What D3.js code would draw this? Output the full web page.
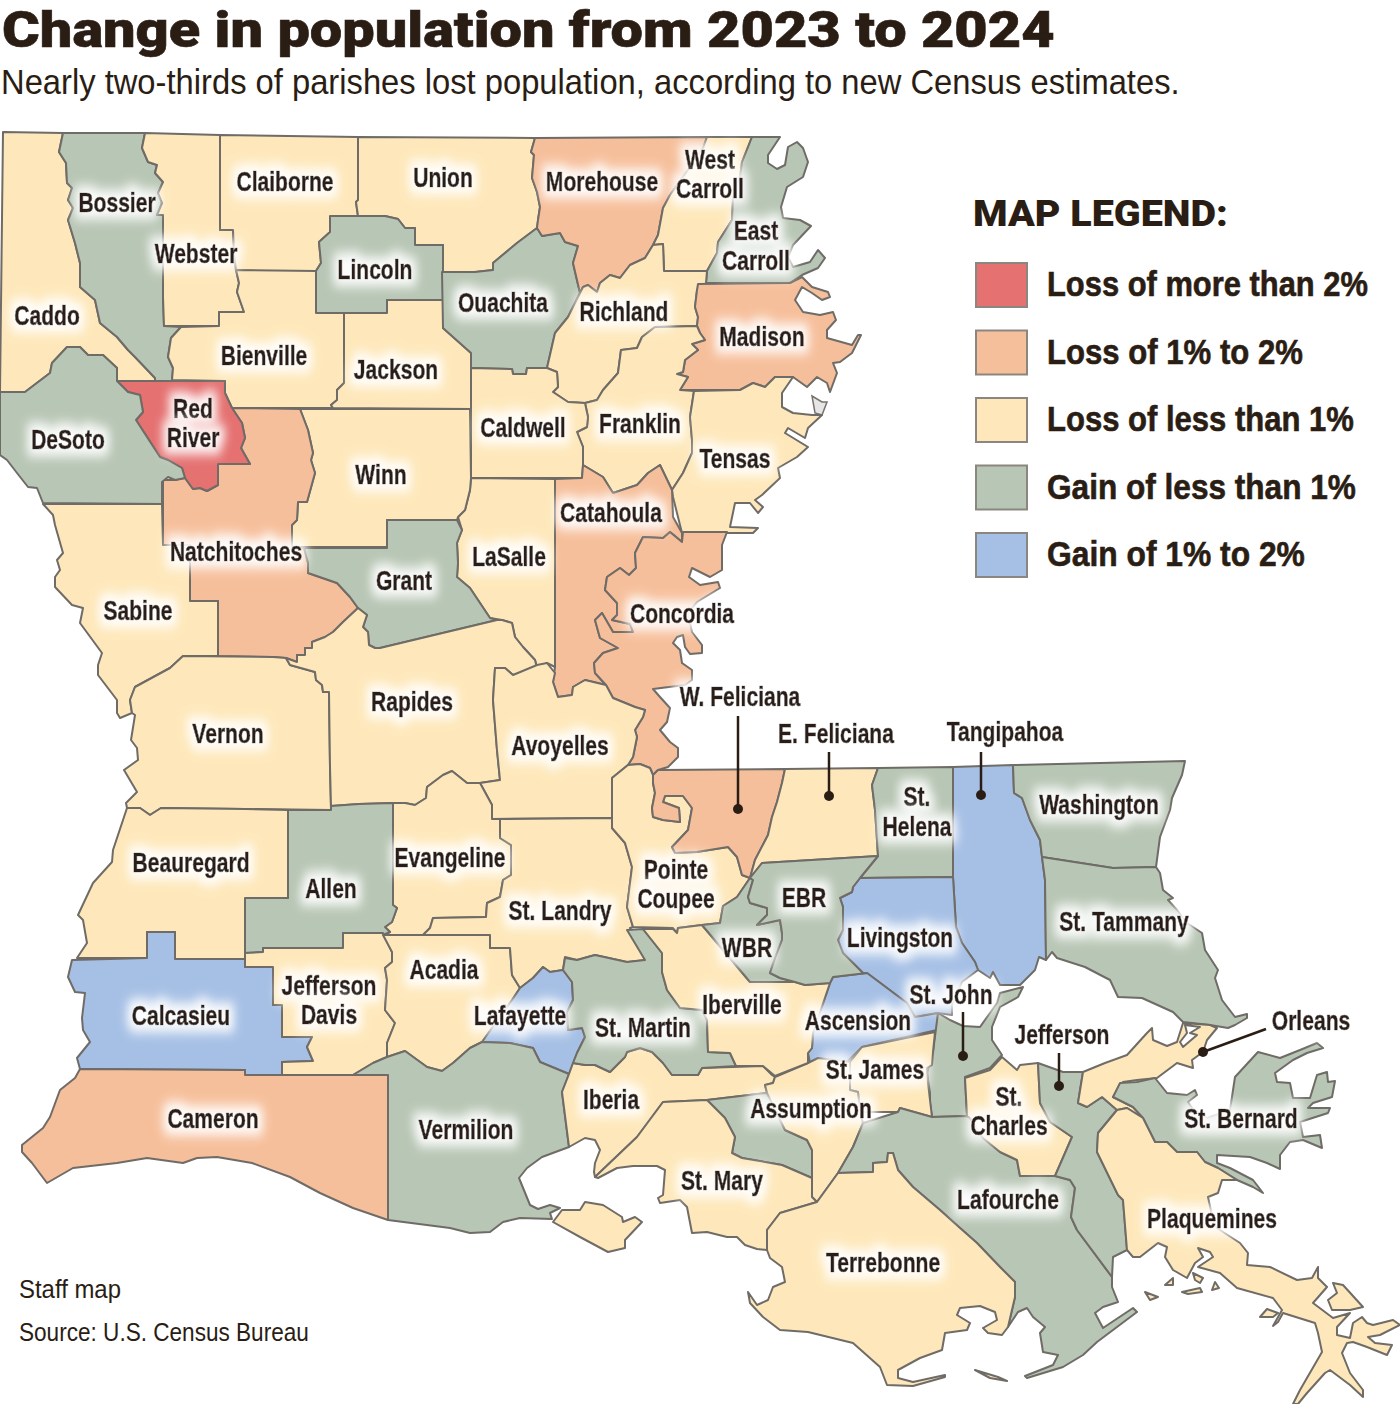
<!DOCTYPE html>
<html>
<head>
<meta charset="utf-8">
<script src="https://cdn.jsdelivr.net/npm/d3@7"></script>
<style>
  html, body { margin: 0; padding: 0; background: #fff; }
  svg { display: block; }
  text { fill: #2a1d14; }
</style>
</head>
<body>
<div id="chart"></div>
<script>
const titleText = 'Change in population from 2023 to 2024'
const subtitleText = 'Nearly two-thirds of parishes lost population, according to new Census estimates.'
const creditLines = ['Staff map', 'Source: U.S. Census Bureau']

const legendLabels = ['Loss of more than 2%', 'Loss of 1% to 2%', 'Loss of less than 1%', 'Gain of less than 1%', 'Gain of 1% to 2%']
const legendColors = ['#e57171', '#f6bf9b', '#fee8bb', '#b8c6b5', '#a6c0e5']

const lossOver2 = ['Red River']
const loss1to2 = ['Morehouse', 'Madison', 'Natchitoches', 'Catahoula', 'Concordia', 'W. Feliciana', 'Cameron']
const gainUnder1 = ['Bossier', 'DeSoto', 'Lincoln', 'Ouachita', 'East Carroll', 'Grant', 'Allen', 'St. Helena', 'Washington', 'St. Tammany', 'EBR', 'WBR', 'St. Martin', 'St. John', 'Vermilion', 'Lafourche', 'Jefferson', 'St. Bernard']
const gain1to2 = ['Calcasieu', 'Lafayette', 'Livingston', 'Ascension', 'Tangipahoa']
// everything else falls in "Loss of less than 1%"

// parish outlines, "x,y x,y ..." and | between separate parts
const parishOutlines = [
  ['Caddo', '3,132 63,133 59,152 66,163 67,183 72,188 68,200 73,208 68,220 75,243 80,263 80,287 95,300 100,323 117,337 128,350 135,357 155,378 155,381 117,381 117,368 103,355 88,355 80,347 67,347 52,363 50,373 25,392 0,392'],
  ['Bossier', '63,133 145,133 142,148 148,162 157,165 155,173 163,182 158,193 162,203 157,215 163,215 163,297 164,326 181,327 171,338 168,357 173,368 172,381 155,381 155,378 135,357 128,350 117,337 100,323 95,300 80,287 80,263 75,243 68,220 73,208 68,200 72,188 67,183 66,163 59,152'],
  ['Webster', '145,133 220,135 220,230 233,230 234,253 236,270 239,283 237,292 244,312 219,312 219,326 164,326 163,297 163,215 157,215 162,203 158,193 163,182 155,173 157,165 148,162 142,148'],
  ['Claiborne', '220,135 358,137 358,200 356,202 358,216 330,217 330,232 319,242 321,263 316,271 236,271 234,253 233,230 220,230'],
  ['Union', '358,137 535,138 531,152 534,155 532,178 537,192 540,207 538,220 537,228 517,243 493,263 493,270 475,272 443,272 443,245 415,245 415,228 405,228 398,219 385,216 358,216 356,202 358,200'],
  ['Lincoln', '330,216 385,216 398,219 405,228 415,228 415,245 443,245 443,300 387,300 387,313 316,313 316,271 321,263 319,242 330,232'],
  ['Bienville', '181,327 219,326 219,312 244,312 237,292 239,283 236,270 316,271 316,313 344,313 344,383 337,390 337,400 331,405 333,408 232,408 225,393 225,381 172,380 173,368 168,357 171,338'],
  ['Jackson', '344,313 387,313 387,300 443,300 443,328 471,353 471,409 333,408 331,405 337,400 337,390 344,383'],
  ['Ouachita', '442,272 475,272 493,270 493,263 517,243 537,228 542,236 560,233 565,242 578,246 573,263 580,293 568,317 555,333 547,368 527,368 526,374 513,374 512,369 471,368 471,353 443,328'],
  ['Morehouse', '535,138 707,137 703,148 688,170 670,195 663,208 658,235 653,245 645,258 630,265 620,278 610,275 600,283 597,292 588,285 583,287 580,293 573,263 578,246 565,242 560,233 542,236 537,228 538,220 540,207 537,192 532,178 534,155 531,152'],
  ['West Carroll', '707,137 752,137 742,162 740,177 733,198 732,220 718,242 717,253 707,271 664,271 663,244 653,245 658,235 663,208 670,195 688,170 703,148'],
  ['East Carroll', '752,137 780,137 768,155 768,163 777,169 785,165 788,147 797,142 803,148 808,162 803,177 787,187 781,207 783,218 800,220 811,226 793,245 788,257 793,267 810,262 818,250 825,258 818,268 802,275 790,283 706,283 707,271 717,253 718,242 732,220 733,198 740,177 742,162'],
  ['Richland', '663,244 664,271 707,271 706,283 697,290 695,307 698,317 697,326 655,327 642,337 637,348 621,350 618,373 603,390 597,400 585,403 568,402 553,392 558,387 557,372 547,368 555,333 568,317 580,293 583,287 588,285 597,292 600,283 610,275 620,278 630,265 645,258 653,245'],
  ['Madison', '698,284 790,283 802,277 812,287 828,292 830,297 822,300 812,293 802,287 795,300 803,312 820,315 833,312 836,320 827,330 827,338 852,345 858,335 861,335 852,353 840,362 833,363 837,373 830,392 827,383 817,377 807,387 793,377 775,377 765,387 753,383 740,390 680,390 688,377 677,374 683,372 685,360 698,350 692,344 705,340 700,333 697,326 698,317 695,307 697,290'],
  ['Franklin', '655,327 697,326 700,333 705,340 692,344 698,350 685,360 683,372 677,374 688,377 680,390 694,391 690,417 692,440 692,453 683,473 672,490 660,465 648,473 637,485 613,493 603,477 583,465 583,447 577,432 587,427 588,417 585,403 597,400 603,390 618,373 621,350 637,348 642,337'],
  ['Tensas', '694,391 740,390 753,383 765,387 775,377 793,377 782,393 782,407 793,413 812,415 822,415 808,428 805,438 788,428 785,433 808,447 797,457 778,468 780,478 762,495 755,500 763,507 758,513 750,503 735,503 730,527 758,528 753,533 727,533 682,533 673,497 672,490 683,473 692,453 692,440 690,417'],
  ['Caldwell', '471,368 512,369 513,374 526,374 527,368 547,368 557,372 558,387 553,392 568,402 585,403 588,417 587,427 577,432 583,447 583,465 582,478 471,478'],
  ['Catahoula', '555,479 582,478 583,465 603,477 613,493 637,485 648,473 660,465 672,490 673,517 682,533 682,542 670,532 663,538 643,537 635,553 636,568 629,575 620,568 607,577 605,590 617,603 617,615 612,620 630,624 633,632 613,632 602,613 595,620 600,638 618,648 603,653 594,663 595,673 606,685 585,680 573,687 572,695 558,697 553,682 555,667'],
  ['Concordia', '682,542 683,532 727,532 722,545 722,570 710,577 692,568 689,577 700,585 718,582 720,588 697,602 688,613 692,632 702,645 702,653 690,654 685,647 683,635 677,637 673,643 680,650 682,663 692,670 692,680 685,685 653,689 660,697 670,708 667,722 660,730 670,742 678,748 678,757 668,767 658,770 653,775 650,768 640,764 628,765 633,757 637,737 635,730 643,717 645,710 635,707 613,698 606,685 595,673 594,663 603,653 618,648 600,638 595,620 602,613 613,632 633,632 630,624 612,620 617,615 617,603 605,590 607,577 620,568 629,575 636,568 635,553 643,537 663,538 670,532'],
  ['LaSalle', '471,478 555,479 555,667 547,663 537,668 535,660 523,647 515,637 512,623 502,620 490,618 470,588 457,577 458,563 457,543 462,530 458,517 465,510 470,490'],
  ['Winn', '300,409 470,409 471,478 470,490 465,510 458,517 457,520 387,520 387,547 292,547 292,525 297,520 298,502 307,502 315,473 311,460 313,453 308,430'],
  ['Natchitoches', '232,408 300,409 308,430 313,453 311,460 315,473 307,502 298,502 297,520 292,525 292,547 304,548 308,563 308,573 337,583 350,597 358,608 343,622 333,632 325,637 312,642 312,648 305,648 305,655 297,655 297,662 286,658 273,657 218,656 218,601 190,601 190,545 163,545 163,480 175,480 185,478 193,489 200,488 207,491 218,485 218,464 250,464 241,448 245,438 242,423'],
  ['Grant', '387,520 457,520 462,530 457,543 458,563 457,577 470,588 490,618 497,620 380,648 375,648 369,645 368,632 363,627 367,615 358,608 350,597 337,583 308,573 308,563 304,548 387,548'],
  ['Red River', '117,381 225,381 225,393 232,408 242,423 245,438 241,448 250,464 218,464 218,485 207,491 200,488 193,489 185,478 182,468 168,460 160,457 147,437 136,420 143,412 140,395 128,392'],
  ['DeSoto', '0,392 25,392 50,373 52,363 67,347 80,347 88,355 103,355 117,368 117,381 128,392 140,395 143,412 136,420 147,437 160,457 168,460 182,468 185,478 175,480 168,477 162,482 162,504 43,503 37,488 28,487 17,473 7,460 0,455'],
  ['Sabine', '43,504 162,504 163,545 190,545 190,601 218,601 218,656 183,656 170,668 135,687 130,700 132,713 120,718 117,713 117,700 98,675 98,665 102,653 80,623 83,608 72,605 55,587 55,577 60,570 57,560 63,553 55,525 53,515'],
  ['Vernon', '183,656 273,657 286,658 290,665 315,672 316,680 322,685 323,692 329,692 330,767 331,810 245,809 161,808 150,815 140,808 127,808 126,803 137,792 124,770 138,760 137,748 131,740 135,715 132,713 130,700 135,687 170,668'],
  ['Rapides', '286,658 297,662 297,655 305,655 305,648 312,648 312,642 325,637 333,632 343,622 358,608 367,615 363,627 368,632 369,645 375,648 380,648 497,620 502,620 512,623 515,637 523,647 535,660 537,668 513,675 505,668 495,668 493,700 497,750 500,780 480,783 467,783 452,771 443,775 427,787 426,798 415,805 405,803 393,803 359,804 331,806 330,767 329,692 323,692 322,685 316,680 315,672 290,665'],
  ['Avoyelles', '495,668 505,668 513,675 537,665 547,663 555,673 553,682 558,697 572,695 573,687 585,680 606,685 613,698 635,707 645,710 643,717 635,730 637,737 633,757 628,765 612,778 612,818 492,819 492,805 480,783 500,780 497,750 493,700'],
  ['Evangeline', '393,803 405,803 415,805 426,798 427,787 443,775 452,771 467,783 480,783 492,805 492,819 500,819 500,838 511,845 511,875 503,880 500,897 487,903 486,917 433,918 430,928 423,935 383,935 390,932 385,927 392,922 397,908 393,905'],
  ['Allen', '288,810 331,810 331,806 359,804 393,803 393,905 397,908 392,922 385,927 390,932 383,935 343,933 343,948 263,948 263,952 245,953 245,898 288,898'],
  ['Beauregard', '127,808 140,808 150,815 161,808 245,809 288,810 288,898 245,898 245,959 175,959 175,932 147,932 147,958 77,958 87,943 83,920 78,915 93,883 112,862 113,850'],
  ['Calcasieu', '72,960 147,958 147,932 175,932 175,959 245,959 245,967 273,967 273,1005 282,1005 282,1037 312,1037 307,1047 313,1061 282,1062 282,1075 245,1075 245,1070 80,1069 77,1058 90,1042 83,1030 82,1018 85,993 75,992 68,977'],
  ['Cameron', '80,1069 245,1070 245,1075 282,1075 388,1075 388,1220 353,1208 320,1193 290,1177 252,1163 217,1157 197,1158 183,1163 147,1158 117,1163 73,1168 47,1183 32,1163 22,1152 22,1145 43,1128 50,1117 60,1090 75,1078'],
  ['Jefferson Davis', '245,953 263,952 263,948 343,948 343,933 383,933 392,952 392,962 385,968 387,980 385,1010 395,1023 387,1043 387,1057 373,1063 353,1075 282,1075 282,1062 313,1061 307,1047 312,1037 282,1037 282,1005 273,1005 273,967 245,967'],
  ['Acadia', '383,935 490,935 490,948 510,948 512,975 520,988 512,1000 482,1042 470,1048 453,1063 442,1071 427,1067 405,1051 387,1057 387,1043 395,1023 385,1010 387,980 385,968 392,962 392,952'],
  ['St. Landry', '500,819 612,818 612,828 625,843 632,867 627,907 633,927 630,928 645,960 627,962 595,955 577,960 565,957 563,970 550,972 543,967 533,978 520,988 512,975 510,948 490,948 490,935 423,935 430,928 433,918 486,917 487,903 500,897 503,880 511,875 511,845 500,838'],
  ['Lafayette', '520,988 533,978 543,967 550,972 563,970 572,982 573,1000 567,1012 568,1030 582,1028 585,1037 577,1053 569,1074 540,1062 533,1048 510,1043 482,1042 512,1000'],
  ['Vermilion', '353,1075 373,1063 387,1057 405,1051 427,1067 442,1071 453,1063 470,1048 482,1042 510,1043 533,1048 540,1062 569,1074 562,1092 569,1147 542,1157 527,1168 519,1178 530,1205 538,1209 550,1205 560,1208 550,1213 552,1219 520,1218 503,1222 490,1232 470,1233 450,1228 388,1220 388,1075'],
  ['Iberia', '569,1074 573,1063 585,1065 595,1065 610,1072 625,1057 627,1052 640,1048 652,1052 663,1063 672,1075 698,1075 702,1068 763,1066 772,1075 775,1077 773,1083 765,1085 767,1093 707,1100 663,1102 637,1137 595,1177 594,1172 595,1163 600,1150 595,1140 585,1138 569,1147 562,1092|553,1222 562,1210 580,1210 585,1202 603,1205 622,1217 623,1222 635,1217 642,1222 625,1240 625,1248 608,1252 580,1237'],
  ['St. Martin', '565,958 577,960 595,955 627,962 645,960 627,930 643,929 662,953 662,972 667,990 680,1008 702,1010 707,1020 708,1052 730,1053 736,1066 702,1068 698,1075 672,1075 663,1063 652,1052 640,1048 627,1052 625,1057 610,1072 595,1065 585,1065 573,1063 577,1053 585,1037 582,1028 568,1030 567,1012 573,1000 572,982 563,970|707,1100 767,1093 785,1130 807,1140 812,1150 812,1178 782,1165 742,1158 732,1153 735,1137 725,1118'],
  ['Pointe Coupee', '628,765 640,764 650,768 653,775 653,783 655,793 652,808 653,817 663,820 680,822 679,808 663,802 665,796 683,796 692,808 688,830 672,847 675,853 697,852 728,847 737,857 742,875 750,878 737,897 723,906 720,923 702,925 678,928 677,933 673,928 633,927 627,907 632,867 625,843 612,828 612,778'],
  ['W. Feliciana', '658,770 785,769 782,783 777,802 772,817 768,835 755,860 750,878 742,875 737,857 728,847 697,852 675,853 672,847 688,830 692,808 683,796 665,796 663,802 679,808 680,822 663,820 653,817 652,808 655,793 653,783 653,775'],
  ['E. Feliciana', '785,769 878,768 872,785 875,810 878,856 762,863 750,878 755,860 768,835 772,817 777,802 782,783'],
  ['St. Helena', '878,768 953,767 953,877 860,878 878,856 875,810 872,785'],
  ['Tangipahoa', '953,767 1013,765 1014,793 1022,798 1030,820 1040,840 1042,857 1045,880 1046,960 1039,957 1035,970 1020,985 1000,985 993,972 990,978 978,970 975,962 962,943 956,927 953,877'],
  ['Washington', '1013,765 1185,761 1182,775 1172,798 1170,810 1160,837 1156,867 1113,868 1042,857 1040,840 1030,820 1022,798 1014,793'],
  ['St. Tammany', '1042,857 1113,868 1156,867 1160,873 1163,890 1173,898 1168,900 1177,910 1187,923 1202,933 1205,950 1218,970 1215,978 1222,1000 1235,1017 1247,1014 1247,1018 1235,1025 1228,1028 1210,1025 1183,1022 1173,1012 1142,998 1118,997 1110,980 1085,967 1057,958 1052,952 1046,960 1045,880'],
  ['Livingston', '860,878 953,877 956,927 962,943 975,962 978,970 962,982 952,1005 952,1015 938,1013 915,1017 907,1003 867,973 863,973 843,953 838,940 843,930 843,907 840,898 852,892 853,887'],
  ['Ascension', '833,977 867,973 907,1003 915,1017 938,1013 937,1030 862,1047 847,1062 810,1063 808,1053 812,1048 813,1033 830,983'],
  ['St. John', '938,1013 950,1020 963,1026 980,1027 997,1003 1000,993 1023,987 1018,997 1000,1007 992,1027 992,1040 1002,1055 990,1068 965,1077 967,1116 932,1117 930,1103 930,1093 927,1073 933,1052'],
  ['St. James', '935,1032 862,1047 850,1062 850,1090 858,1092 860,1112 898,1112 900,1108 932,1117 928,1083 927,1068 932,1065 933,1052'],
  ['Assumption', '775,1077 808,1063 818,1058 850,1062 850,1090 858,1092 860,1112 863,1123 853,1147 838,1173 817,1202 812,1197 812,1150 807,1140 785,1130 767,1093 765,1085 773,1083'],
  ['Iberville', '643,929 673,929 677,933 678,928 702,925 750,982 795,982 805,985 830,983 813,1033 812,1048 808,1053 808,1063 775,1076 763,1066 736,1066 730,1053 708,1052 707,1020 702,1010 680,1008 667,990 662,972 662,953'],
  ['WBR', '702,925 720,923 723,906 737,897 750,878 753,880 748,897 750,903 767,908 767,915 757,925 780,920 782,933 782,940 775,958 770,973 780,978 795,982 750,982'],
  ['EBR', '750,878 762,863 878,856 860,878 853,887 852,892 840,898 843,907 843,930 838,940 843,953 863,973 867,973 833,977 830,983 805,985 795,982 780,978 770,973 775,958 782,940 782,933 780,920 757,925 767,915 767,908 750,903 748,897 753,880'],
  ['St. Mary', '663,1102 707,1100 725,1118 735,1137 732,1153 742,1158 782,1165 812,1178 812,1197 817,1202 780,1213 767,1230 767,1250 757,1249 745,1245 737,1237 727,1237 707,1232 692,1233 687,1207 680,1200 660,1203 658,1198 663,1195 665,1170 657,1166 633,1166 617,1168 598,1178 595,1177 637,1137'],
  ['Lafourche', '863,1123 898,1112 900,1108 932,1117 967,1116 970,1118 983,1138 1000,1152 1017,1160 1020,1176 1055,1176 1070,1180 1075,1188 1071,1217 1077,1230 1112,1277 1112,1287 1118,1302 1103,1307 1095,1313 1103,1328 1133,1308 1137,1312 1097,1342 1083,1355 1063,1367 1027,1378 1025,1376 1053,1365 1058,1355 1043,1352 1040,1333 1045,1327 1033,1317 1027,1308 1018,1312 1008,1327 1015,1297 1015,1282 1000,1267 977,1243 960,1228 940,1210 913,1187 898,1170 893,1153 888,1153 887,1162 873,1163 873,1172 838,1173 853,1147'],
  ['Terrebonne', '817,1202 838,1173 873,1172 873,1163 887,1162 888,1153 893,1153 898,1170 913,1187 940,1210 960,1228 977,1243 1000,1267 1015,1282 1015,1297 1008,1327 1002,1335 988,1333 983,1328 997,1320 995,1312 980,1306 960,1308 957,1315 970,1323 967,1330 945,1333 942,1350 920,1358 898,1370 898,1378 913,1382 945,1375 945,1377 913,1386 887,1385 880,1367 853,1343 808,1332 780,1330 763,1317 750,1303 748,1292 757,1305 768,1300 773,1287 785,1282 782,1267 770,1258 767,1250 767,1230 780,1213|975,1370 998,1377 1007,1381 990,1378'],
  ['St. Charles', '965,1078 990,1070 1002,1057 1017,1070 1020,1065 1038,1063 1040,1103 1050,1122 1072,1137 1055,1176 1020,1176 1017,1160 1000,1152 983,1138 970,1118 967,1116'],
  ['Jefferson', '1038,1063 1063,1072 1083,1072 1078,1103 1087,1107 1102,1097 1117,1110 1098,1133 1097,1152 1118,1195 1123,1200 1127,1250 1113,1257 1112,1277 1077,1230 1071,1217 1075,1188 1070,1180 1055,1176 1072,1137 1050,1122 1040,1103'],
  ['Orleans', '1083,1072 1105,1063 1127,1055 1147,1033 1152,1028 1153,1040 1167,1046 1177,1042 1183,1023 1210,1025 1217,1028 1207,1040 1203,1052 1192,1060 1193,1068 1177,1063 1157,1078 1137,1080 1123,1082 1113,1097 1133,1107 1143,1118 1127,1108 1117,1110 1102,1097 1087,1107 1078,1103|1185,1025 1187,1033 1180,1042 1183,1047 1197,1035 1190,1033 1200,1027'],
  ['St. Bernard', '1113,1097 1120,1083 1137,1082 1155,1078 1167,1093 1187,1095 1195,1090 1197,1095 1188,1102 1192,1108 1207,1118 1230,1110 1235,1077 1258,1052 1280,1058 1300,1050 1317,1043 1323,1048 1307,1053 1293,1060 1275,1073 1277,1082 1290,1083 1293,1098 1310,1098 1317,1075 1327,1072 1328,1082 1335,1081 1332,1097 1313,1103 1308,1108 1330,1108 1328,1113 1300,1122 1303,1137 1320,1135 1322,1148 1303,1140 1290,1142 1280,1155 1280,1169 1267,1163 1250,1157 1217,1155 1217,1163 1230,1168 1253,1180 1263,1193 1253,1187 1237,1180 1218,1168 1205,1162 1197,1152 1177,1152 1167,1142 1155,1142 1143,1118 1133,1107'],
  ['Plaquemines', '1117,1110 1127,1108 1143,1118 1155,1142 1167,1142 1177,1152 1197,1152 1205,1162 1218,1168 1237,1180 1222,1180 1218,1193 1208,1197 1213,1220 1217,1228 1240,1243 1248,1253 1247,1265 1270,1267 1297,1280 1312,1278 1318,1267 1318,1278 1327,1287 1313,1303 1333,1318 1350,1313 1337,1327 1337,1335 1350,1338 1353,1323 1362,1317 1367,1323 1373,1325 1393,1320 1400,1325 1380,1335 1368,1337 1375,1343 1392,1345 1387,1355 1367,1347 1353,1342 1347,1343 1342,1353 1350,1373 1363,1390 1363,1397 1350,1385 1330,1370 1325,1373 1307,1393 1298,1404 1293,1404 1300,1390 1322,1352 1318,1333 1315,1323 1283,1313 1278,1322 1273,1326 1282,1310 1273,1298 1237,1288 1220,1273 1198,1267 1213,1257 1210,1252 1198,1248 1203,1257 1195,1263 1187,1278 1173,1270 1165,1257 1167,1247 1158,1243 1140,1257 1133,1257 1127,1250 1123,1200 1118,1195 1097,1152 1098,1133|1333,1283 1343,1285 1363,1307 1350,1310 1332,1310 1328,1300 1337,1293|1165,1285 1173,1278 1173,1285|1182,1292 1200,1288 1202,1292 1188,1294|1193,1273 1203,1278 1200,1283 1195,1280|1212,1290 1215,1282 1219,1288|1145,1292 1158,1297 1150,1300|1260,1317 1267,1309 1278,1313 1273,1317']
]
const unassignedOutlines = ['812,396 822,402 827,402 822,415 815,413']

// label text, centre x, baseline y
const parishLabels = [
  ['Bossier', 117, 212], ['Webster', 196, 263], ['Claiborne', 285, 191], ['Union', 443, 187], ['Morehouse', 602, 191],
  ['West', 710, 169], ['Carroll', 710, 198], ['East', 756, 240], ['Carroll', 756, 270], ['Caddo', 47, 325],
  ['Lincoln', 375, 279], ['Ouachita', 503, 312], ['Richland', 624, 321], ['Madison', 762, 346], ['Bienville', 264, 365],
  ['Jackson', 396, 379], ['Red', 193, 418], ['River', 193, 447], ['DeSoto', 68, 449], ['Caldwell', 523, 437],
  ['Franklin', 640, 433], ['Tensas', 735, 468], ['Winn', 381, 484], ['Catahoula', 611, 522], ['Natchitoches', 236, 561],
  ['LaSalle', 509, 566], ['Grant', 404, 590], ['Sabine', 138, 620], ['Concordia', 682, 623], ['Rapides', 412, 711],
  ['W. Feliciana', 740, 706], ['Vernon', 228, 743], ['E. Feliciana', 836, 743], ['Tangipahoa', 1005, 741], ['Avoyelles', 560, 755],
  ['St.', 917, 806], ['Helena', 917, 836], ['Washington', 1099, 814], ['Evangeline', 450, 867], ['Beauregard', 191, 872],
  ['Pointe', 676, 879], ['Coupee', 676, 908], ['Allen', 331, 898], ['EBR', 804, 907], ['St. Landry', 560, 920],
  ['St. Tammany', 1124, 931], ['Livingston', 900, 947], ['WBR', 747, 957], ['Acadia', 444, 979], ['St. John', 951, 1004],
  ['Jefferson', 329, 995], ['Davis', 329, 1024], ['Iberville', 742, 1014], ['Calcasieu', 181, 1025], ['Lafayette', 520, 1025],
  ['Ascension', 858, 1030], ['St. Martin', 643, 1037], ['Orleans', 1311, 1030], ['Jefferson', 1062, 1044], ['St. James', 875, 1079],
  ['Assumption', 811, 1118], ['Iberia', 611, 1109], ['St.', 1009, 1106], ['Charles', 1009, 1135], ['Cameron', 213, 1128],
  ['St. Bernard', 1241, 1128], ['Vermilion', 466, 1139], ['St. Mary', 722, 1190], ['Lafourche', 1008, 1209], ['Plaquemines', 1212, 1228],
  ['Terrebonne', 883, 1272]
]
// leader from label to the dot inside the parish: x1, y1, x2, y2
const leaderLines = [
  [738, 716, 738, 809], [829, 752, 829, 796], [981, 752, 981, 795],
  [963, 1012, 963, 1056], [1059, 1053, 1059, 1086], [1266, 1029, 1203, 1052]
]

const legendTextWidths = [321, 256, 307, 309, 258]
const creditWidths = [102, 290]

const width = 1400
const height = 1404
const sans = '"Liberation Sans", sans-serif'

const binFor = name => {
  if (lossOver2.includes(name)) return legendLabels[0]
  if (loss1to2.includes(name)) return legendLabels[1]
  if (gainUnder1.includes(name)) return legendLabels[3]
  if (gain1to2.includes(name)) return legendLabels[4]
  return legendLabels[2]
}
const color = d3.scaleOrdinal().domain(legendLabels).range(legendColors)

const ring = s => {
  const pts = s.trim().split(' ').map(p => p.split(',').map(Number))
  pts.push(pts[0])
  return [pts]
}
const toFeature = (name, outline) => ({
  type: 'Feature',
  properties: { name },
  geometry: { type: 'MultiPolygon', coordinates: outline.split('|').map(ring) }
})

const parishes = { type: 'FeatureCollection', features: parishOutlines.map(d => toFeature(d[0], d[1])) }
const unassigned = unassignedOutlines.map(d => toFeature('', d))

const path = d3.geoPath(d3.geoIdentity())

// squeeze a text sideways to a target width, no condensed face is installed
const fitText = (sel, x, y, w) => {
  sel.attr('transform', function (d, i) {
    const sx = w(d, i) / this.getComputedTextLength()
    return `translate(${x(d, i)},${y(d, i)}) scale(${sx},1)`
  })
}

const svg = d3.select('#chart').append('svg')
  .attr('width', width)
  .attr('height', height)
  .attr('viewBox', `0 0 ${width} ${height}`)

// soft white halo behind map labels
const glow = svg.append('defs').append('filter')
  .attr('id', 'glow')
  .attr('x', '-40%').attr('y', '-120%').attr('width', '180%').attr('height', '340%')
glow.append('feMorphology').attr('in', 'SourceAlpha').attr('operator', 'dilate').attr('radius', 7).attr('result', 'fat')
glow.append('feGaussianBlur').attr('in', 'fat').attr('stdDeviation', 6).attr('result', 'blur')
glow.append('feFlood').attr('flood-color', '#fff').attr('flood-opacity', 0.95).attr('result', 'white')
glow.append('feComposite').attr('in', 'white').attr('in2', 'blur').attr('operator', 'in').attr('result', 'halo')
const merge = glow.append('feMerge')
merge.append('feMergeNode').attr('in', 'halo')
merge.append('feMergeNode').attr('in', 'SourceGraphic')

svg.append('g').selectAll('path')
  .data(unassigned)
  .join('path')
  .attr('d', path)
  .attr('fill', '#e6e6e6')
  .attr('stroke', '#77726c')
  .attr('stroke-width', 1.5)

svg.append('g').selectAll('path')
  .data(parishes.features)
  .join('path')
  .attr('class', 'parish')
  .attr('d', path)
  .attr('fill', d => color(binFor(d.properties.name)))
  .attr('fill-rule', 'evenodd')
  .attr('stroke', '#6f6b66')
  .attr('stroke-width', 2)
  .attr('stroke-linejoin', 'round')

svg.append('g').selectAll('text')
  .data(parishLabels)
  .join('text')
  .attr('text-anchor', 'middle')
  .attr('font-family', sans)
  .attr('font-weight', 700)
  .attr('font-size', 27)
  .attr('stroke', '#2a1d14')
  .attr('stroke-width', 0.7)
  .attr('transform', d => `translate(${d[1]},${d[2]}) scale(0.78,1)`)
  .attr('filter', 'url(#glow)')
  .text(d => d[0])

svg.append('g').selectAll('line')
  .data(leaderLines)
  .join('line')
  .attr('x1', d => d[0]).attr('y1', d => d[1])
  .attr('x2', d => d[2]).attr('y2', d => d[3])
  .attr('stroke', '#2a1d14')
  .attr('stroke-width', 2.5)

svg.append('g').selectAll('circle')
  .data(leaderLines)
  .join('circle')
  .attr('cx', d => d[2]).attr('cy', d => d[3])
  .attr('r', 5)
  .attr('fill', '#2a1d14')

svg.append('text')
  .attr('font-family', 'Roboto, sans-serif')
  .attr('font-weight', 900)
  .attr('font-size', 50)
  .attr('stroke', '#2a1d14')
  .attr('stroke-width', 0.6)
  .text(titleText)
  .call(fitText, () => 2, () => 46.5, () => 1053)

svg.append('text')
  .attr('font-family', sans)
  .attr('font-size', 35)
  .text(subtitleText)
  .call(fitText, () => 1, () => 94, () => 1179)

svg.append('g').selectAll('text')
  .data(creditLines)
  .join('text')
  .attr('font-family', sans)
  .attr('font-size', 25)
  .text(d => d)
  .call(fitText, () => 19, (d, i) => 1298 + i * 43, (d, i) => creditWidths[i])

// legend
const legend = svg.append('g')
const legendY = d3.scalePoint().domain(legendLabels).range([263, 533])
legend.append('text')
  .attr('font-family', 'Roboto, sans-serif')
  .attr('font-weight', 900)
  .attr('font-size', 37)
  .text('MAP LEGEND:')
  .call(fitText, () => 973, () => 226, () => 255)
legend.selectAll('rect')
  .data(legendLabels)
  .join('rect')
  .attr('x', 976)
  .attr('y', d => legendY(d))
  .attr('width', 51)
  .attr('height', 44)
  .attr('fill', d => color(d))
  .attr('stroke', '#8b8680')
  .attr('stroke-width', 2)
legend.selectAll('text.item')
  .data(legendLabels)
  .join('text')
  .attr('class', 'item')
  .attr('font-family', sans)
  .attr('font-weight', 700)
  .attr('font-size', 35)
  .attr('stroke', '#2a1d14')
  .attr('stroke-width', 0.6)
  .text(d => d)
  .call(fitText, () => 1047, d => legendY(d) + 33, (d, i) => legendTextWidths[i])
</script>
</body>
</html>
